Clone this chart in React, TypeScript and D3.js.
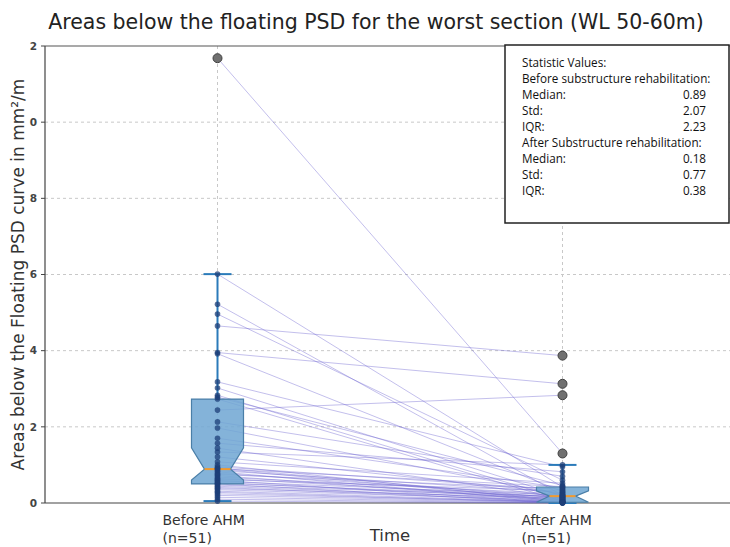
import React from "react";
import * as d3 from "d3";

const categories = ["Before AHM", "After AHM"];
const categoryLines = [["Before AHM", "(n=51)"], ["After AHM", "(n=51)"]];

const beforeValues = [11.68, 6.01, 5.22, 4.96, 4.65, 3.95, 3.92, 3.18, 3.02, 2.83, 2.78, 2.73, 2.44, 2.13, 1.97, 1.7, 1.57, 1.44, 1.34, 1.21, 1.08, 1.0, 0.95, 0.92, 0.9, 0.89, 0.85, 0.82, 0.78, 0.75, 0.72, 0.68, 0.65, 0.62, 0.6, 0.57, 0.54, 0.52, 0.5, 0.47, 0.44, 0.41, 0.38, 0.35, 0.31, 0.28, 0.24, 0.2, 0.15, 0.1, 0.05];
const afterValues = [1.3, 0.42, 0.2, 0.6, 3.87, 3.13, 0.3, 0.95, 0.18, 0.1, 0.46, 0.05, 2.83, 0.7, 0.22, 0.4, 0.82, 0.14, 1.0, 0.26, 0.52, 0.04, 0.35, 0.12, 0.43, 0.08, 0.28, 0.02, 0.19, 0.37, 0.06, 0.24, 0.15, 0.32, 0.01, 0.21, 0.11, 0.17, 0, 0.16, 0.09, 0.04, 0.13, 0.07, 0.03, 0.01, 0.03, 0.02, 0.01, 0, 0];

const boxStats = [
  { q1: 0.5, notchLo: 0.6, median: 0.89, notchHi: 1.45, q3: 2.73, wLo: 0.05, wHi: 6.01 },
  { q1: 0.02, notchLo: 0.02, median: 0.18, notchHi: 0.32, q3: 0.42, wLo: 0.0, wHi: 1.0 },
];
const beforeOutliers = [11.68];
const afterOutliers = [3.87, 3.13, 2.83, 1.3];

const yTicks = [0, 2, 4, 6, 8, 10, 12];
const yTickLabels = ["0", "2", "4", "6", "8", "0", "2"];

const statLabels = ["Statistic Values:", "Before substructure rehabilitation:", "Median:", "Std:", "IQR:", "After Substructure rehabilitation:", "Median:", "Std:", "IQR:"];
const statValues = ["", "", "0.89", "2.07", "2.23", "", "0.18", "0.77", "0.38"];

export default function App() {
  const W = 730, H = 547;
  const left = 45, top = 46, bottom = 503;
  const y = d3.scaleLinear().domain([0, 12]).range([bottom, top]);
  const x = d3.scalePoint().domain(categories).range([left, 735]).padding(0.5);
  const xb = x(categories[0])!;
  const xa = x(categories[1])!;
  const hw = 26, nw = 13, cw = 14;

  const boxPath = (cx: number, s: typeof boxStats[0]) => {
    const p = d3.path();
    p.moveTo(cx - hw, y(s.q1));
    p.lineTo(cx - hw, y(s.notchLo));
    p.lineTo(cx - nw, y(s.median));
    p.lineTo(cx - hw, y(s.notchHi));
    p.lineTo(cx - hw, y(s.q3));
    p.lineTo(cx + hw, y(s.q3));
    p.lineTo(cx + hw, y(s.notchHi));
    p.lineTo(cx + nw, y(s.median));
    p.lineTo(cx + hw, y(s.notchLo));
    p.lineTo(cx + hw, y(s.q1));
    p.closePath();
    return p.toString();
  };

  const font = "'DejaVu Sans', Verdana, sans-serif";
  const whiskerColor = "#2b7bba";

  return (
    <svg width={W} height={H} style={{ position: "absolute", left: 0, top: 0, background: "#fff" }}>
      <rect x={0} y={0} width={W} height={H} fill="#fff" />
      {yTicks.filter(t => t > 0 && t < 12).map(t => (
        <line key={"g" + t} x1={left} x2={W} y1={y(t)} y2={y(t)} stroke="#c8c8c8" strokeDasharray="3,3" strokeWidth={1} />
      ))}
      {categories.map(c => (
        <line key={"v" + c} x1={x(c)} x2={x(c)} y1={top} y2={bottom} stroke="#c8c8c8" strokeDasharray="3,3" strokeWidth={1} />
      ))}
      <line x1={left} x2={W} y1={top} y2={top} stroke="#555" strokeWidth={1.2} />
      <line x1={left} x2={left} y1={top} y2={bottom} stroke="#444" strokeWidth={1.2} />
      <line x1={left} x2={W} y1={bottom} y2={bottom} stroke="#444" strokeWidth={1.2} />
      {yTicks.map((t, i) => (
        <g key={"t" + t}>
          <line x1={left - 4} x2={left} y1={y(t)} y2={y(t)} stroke="#444" />
          <text x={left - 8} y={y(t)} dy="0.35em" textAnchor="end" fontSize={10.5} fontWeight="bold" fontFamily={font} fill="#444">{yTickLabels[i]}</text>
        </g>
      ))}
      {beforeValues.map((b, i) => (
        <line key={"l" + i} x1={xb} y1={y(b)} x2={xa} y2={y(afterValues[i])} stroke="#6a5fd0" strokeOpacity={0.4} strokeWidth={1} />
      ))}
      {boxStats.map((s, i) => {
        const cx = x(categories[i])!;
        return (
          <g key={"b" + i}>
            <line x1={cx} x2={cx} y1={y(s.q3)} y2={y(s.wHi)} stroke={whiskerColor} strokeWidth={2} />
            <line x1={cx} x2={cx} y1={y(s.q1)} y2={y(s.wLo)} stroke={whiskerColor} strokeWidth={2} />
            <line x1={cx - cw} x2={cx + cw} y1={y(s.wHi)} y2={y(s.wHi)} stroke={whiskerColor} strokeWidth={2} />
            <line x1={cx - cw} x2={cx + cw} y1={y(s.wLo)} y2={y(s.wLo)} stroke={whiskerColor} strokeWidth={2} />
            <path d={boxPath(cx, s)} fill="#6ea6d2" fillOpacity={0.85} stroke="#4a7fa8" strokeWidth={1.2} />
            <line x1={cx - nw} x2={cx + nw} y1={y(s.median)} y2={y(s.median)} stroke="#f09a30" strokeWidth={2} />
          </g>
        );
      })}
      {beforeValues.filter(v => !beforeOutliers.includes(v)).map((v, i) => (
        <circle key={"pb" + i} cx={xb} cy={y(v)} r={2.8} fill="#1d3f78" fillOpacity={0.75} />
      ))}
      {afterValues.filter(v => !afterOutliers.includes(v)).map((v, i) => (
        <circle key={"pa" + i} cx={xa} cy={y(v)} r={2.8} fill="#1d3f78" fillOpacity={0.75} />
      ))}
      {beforeOutliers.map((v, i) => (
        <circle key={"ob" + i} cx={xb} cy={y(v)} r={4.5} fill="#707070" stroke="#404040" strokeWidth={1} />
      ))}
      {afterOutliers.map((v, i) => (
        <circle key={"oa" + i} cx={xa} cy={y(v)} r={4.5} fill="#707070" stroke="#404040" strokeWidth={1} />
      ))}
      {categoryLines.map((lines, i) => {
        const cx = x(categories[i])!;
        const lx = cx - (i === 0 ? 55 : 41);
        return (
          <text key={"x" + i} x={lx} y={525} fontSize={14} fontFamily={font} fill="#333">
            {lines.map((ln, j) => (
              <tspan key={j} x={lx} dy={j === 0 ? 0 : 18}>{ln}</tspan>
            ))}
          </text>
        );
      })}
      <text x={390} y={541} textAnchor="middle" fontSize={16.5} fontFamily={font} fill="#333">Time</text>
      <text transform={`translate(24, ${(top + bottom) / 2}) rotate(-90)`} textAnchor="middle" fontSize={17} fontFamily={font} fill="#333">Areas below the Floating PSD curve in mm²/m</text>
      <text x={376} y={29} textAnchor="middle" fontSize={20.5} fontFamily={font} fill="#222">Areas below the floating PSD for the worst section (WL 50-60m)</text>
      <rect x={505} y={45} width={224} height={178} fill="#fff" stroke="#222" strokeWidth={1.5} />
      {statLabels.map((s, i) => (
        <text key={"s" + i} x={522} y={67 + i * 16} fontSize={11.7} fontFamily="'Open Sans', 'Noto Sans', sans-serif" fill="#111">{s}</text>
      ))}
      {statValues.map((s, i) => s ? (
        <text key={"sv" + i} x={706} y={67 + i * 16} textAnchor="end" fontSize={11.7} fontFamily="'Open Sans', 'Noto Sans', sans-serif" fill="#111">{s}</text>
      ) : null)}
    </svg>
  );
}
